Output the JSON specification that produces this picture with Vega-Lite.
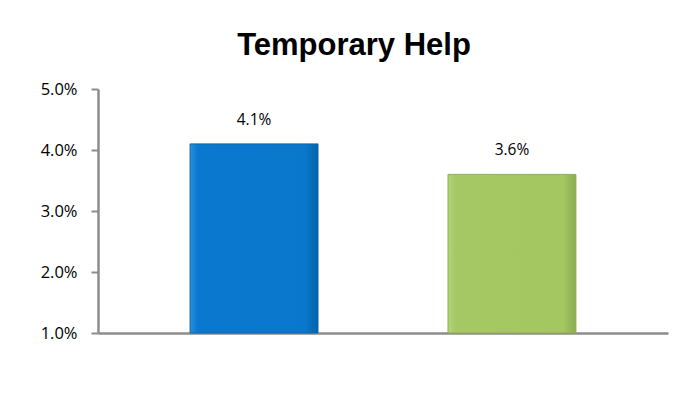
{
  "$schema": "https://vega.github.io/schema/vega-lite/v6.json",
  "width": 570,
  "height": 244,
  "autosize": {"type": "none"},
  "padding": {"left": 98, "top": 89, "right": 10, "bottom": 86},
  "background": "white",
  "title": {
    "text": "Temporary Help",
    "font": "Liberation Sans",
    "fontSize": 31,
    "fontWeight": "bold",
    "color": "#000000",
    "anchor": "middle",
    "offset": 19,
    "dx": -29
  },
  "data": {
    "values": [
      {"series": "A", "value": 0.041},
      {"series": "B", "value": 0.036}
    ]
  },
  "encoding": {
    "x": {
      "field": "series",
      "type": "nominal",
      "sort": null,
      "scale": {"paddingInner": 0.504, "paddingOuter": 0.357},
      "axis": {
        "title": null,
        "labels": false,
        "ticks": false,
        "domainColor": "#8c8c8c",
        "domainWidth": 2.5
      }
    },
    "y": {
      "field": "value",
      "type": "quantitative",
      "scale": {"domain": [0.01, 0.05], "nice": false, "zero": false, "clamp": true},
      "axis": {
        "title": null,
        "format": ".1%",
        "values": [0.01, 0.02, 0.03, 0.04, 0.05],
        "grid": false,
        "domainColor": "#8c8c8c",
        "domainWidth": 2.5,
        "tickColor": "#8c8c8c",
        "tickWidth": 2,
        "tickSize": 7,
        "labelPadding": 14,
        "labelFont": "Open Sans",
        "labelFontSize": 16.5,
        "labelColor": "#000000"
      }
    }
  },
  "layer": [
    {
      "transform": [{"filter": "datum.series === 'A'"}],
      "mark": {
        "type": "bar",
        "stroke": "#0B66AE",
        "strokeWidth": 1,
        "color": {
          "gradient": "linear",
          "x1": 0, "y1": 0, "x2": 1, "y2": 0,
          "stops": [
            {"offset": 0, "color": "#2B8FDD"},
            {"offset": 0.06, "color": "#0A78CE"},
            {"offset": 0.9, "color": "#0877CC"},
            {"offset": 1, "color": "#0663A8"}
          ]
        }
      },
      "encoding": {"y2": {"datum": 0.01}}
    },
    {
      "transform": [{"filter": "datum.series === 'B'"}],
      "mark": {
        "type": "bar",
        "stroke": "#8FAE55",
        "strokeWidth": 1,
        "color": {
          "gradient": "linear",
          "x1": 0, "y1": 0, "x2": 1, "y2": 0,
          "stops": [
            {"offset": 0, "color": "#B5D47A"},
            {"offset": 0.06, "color": "#A5C864"},
            {"offset": 0.9, "color": "#A4C762"},
            {"offset": 1, "color": "#8CAB52"}
          ]
        }
      },
      "encoding": {"y2": {"datum": 0.01}}
    },
    {
      "mark": {"type": "text", "dy": -24, "font": "Open Sans", "fontSize": 15.5, "color": "#000000"},
      "encoding": {
        "text": {"field": "value", "type": "quantitative", "format": ".1%"}
      }
    }
  ],
  "config": {"view": {"stroke": null}}
}
